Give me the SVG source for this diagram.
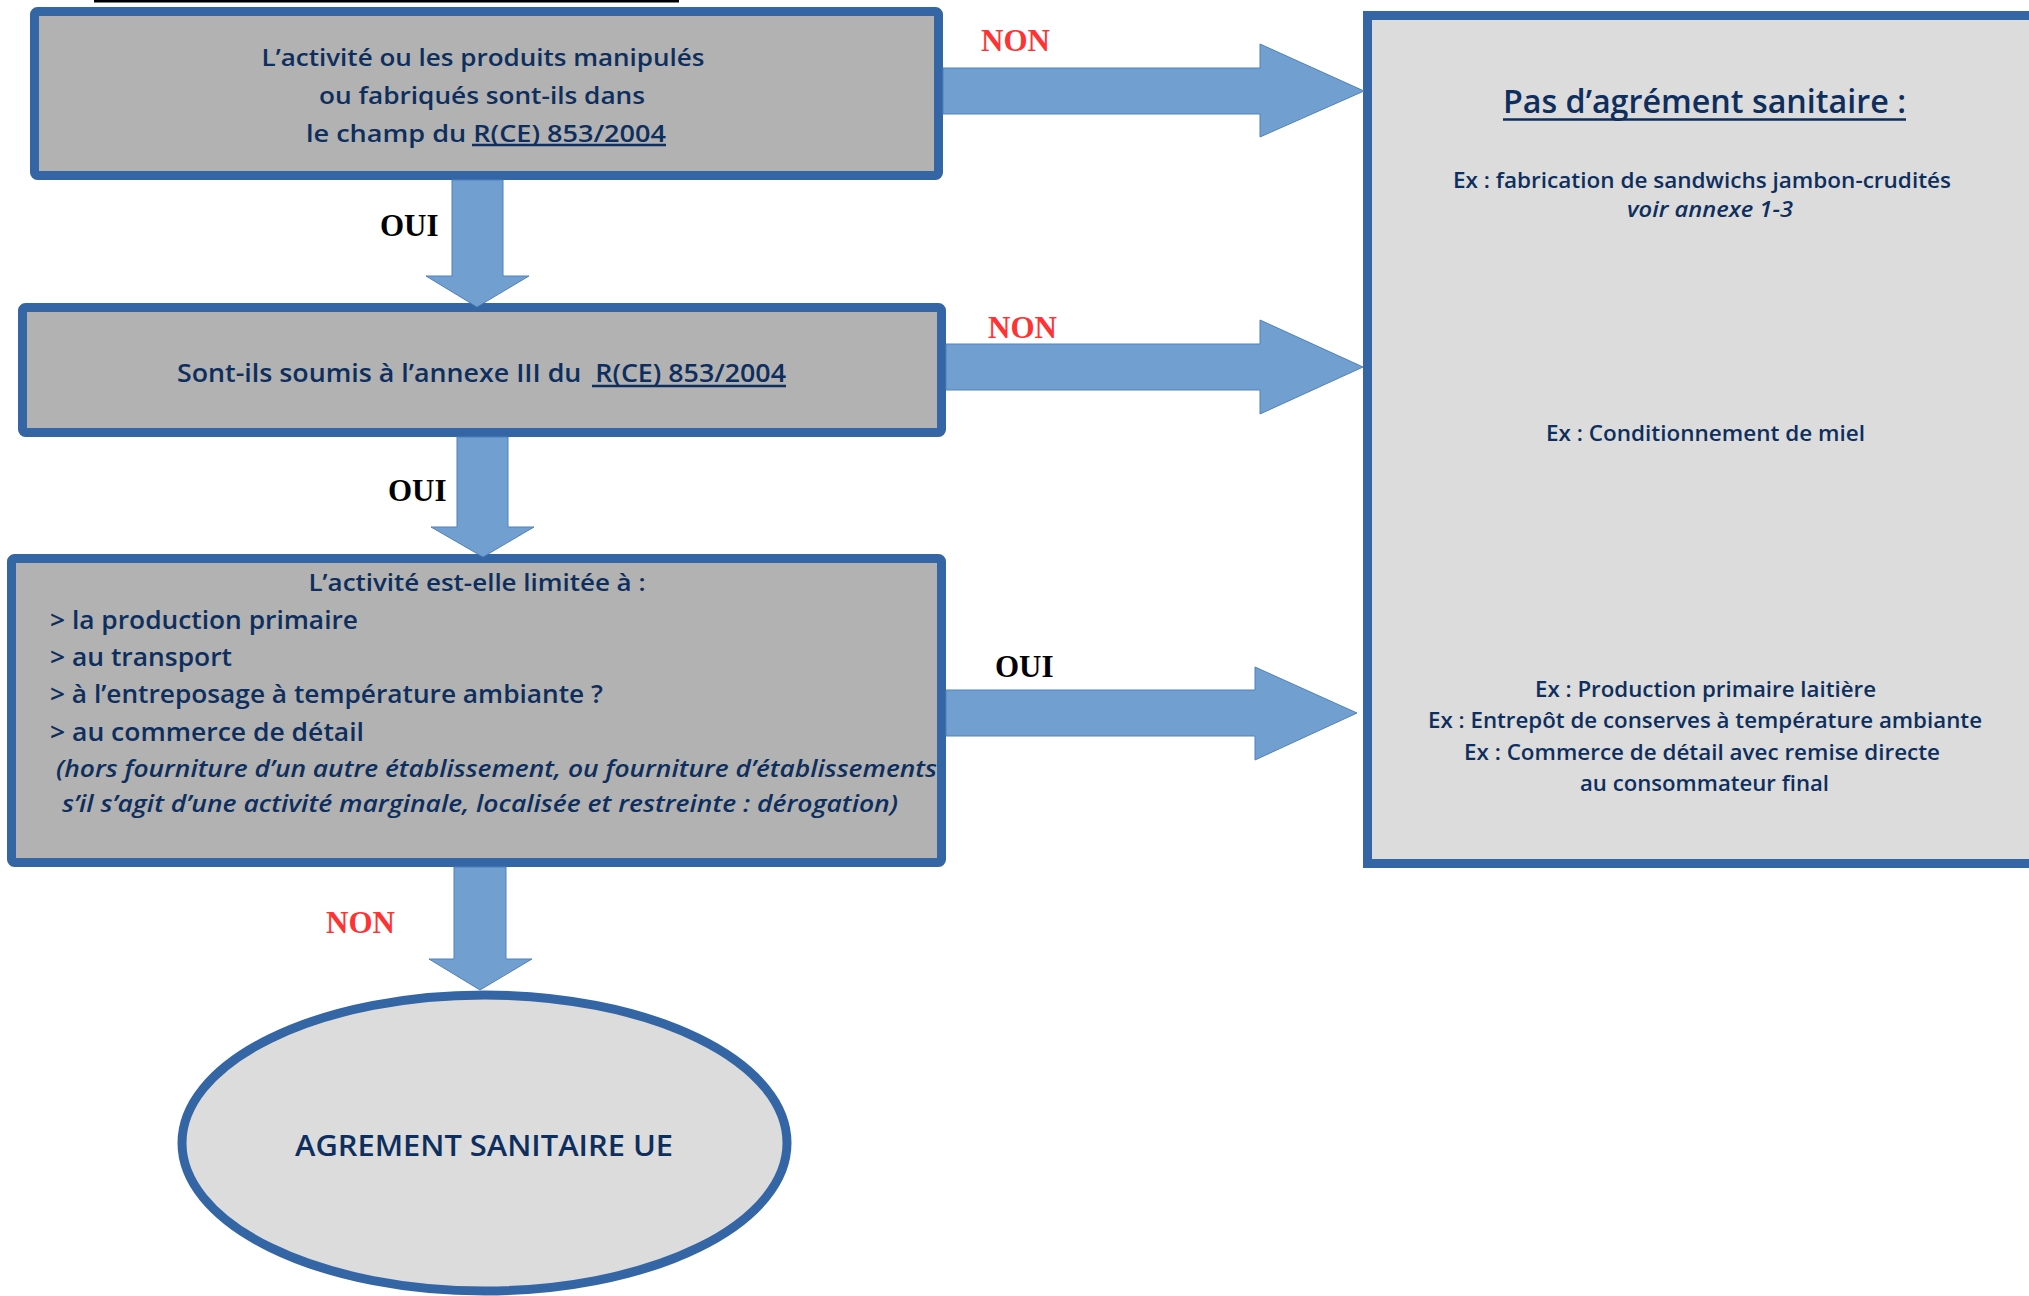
<svg xmlns="http://www.w3.org/2000/svg" width="2029" height="1296" viewBox="0 0 2029 1296">
<style>
.q{fill:#B2B2B2;stroke:#3465A4;stroke-width:9}
.r{fill:#DCDCDC;stroke:#3465A4;stroke-width:9}
.t{font-family:"Open Sans","Noto Sans","DejaVu Sans",sans-serif;fill:#0E2F5E;font-weight:600}
.i{font-style:italic}
.u{stroke:#0E2F5E;stroke-width:2.5}
.ar{fill:#719FD0;stroke:#4F81BD;stroke-width:1}
.lb{font-family:"Liberation Serif","Times New Roman",serif;font-weight:bold;font-size:31px}
.no{fill:#FF3333}
.yes{fill:#000000}
</style>
<rect x="94" y="0" width="585" height="2.5" fill="#000000"/>

<g id="q1">
<rect class="q" x="34.5" y="11.5" width="904" height="164" rx="3"/>
<text class="t" font-size="24" text-anchor="middle" x="483" y="66" textLength="443" lengthAdjust="spacingAndGlyphs">L’activité ou les produits manipulés</text>
<text class="t" font-size="24" text-anchor="middle" x="482" y="104" textLength="326" lengthAdjust="spacingAndGlyphs">ou fabriqués sont-ils dans</text>
<text class="t" font-size="24" text-anchor="middle" x="486" y="142" textLength="360" lengthAdjust="spacingAndGlyphs">le champ du R(CE) 853/2004</text>
<line class="u" x1="472" y1="145" x2="666" y2="145"/>
</g>

<g id="q2">
<rect class="q" x="22.5" y="307.5" width="919" height="125" rx="3"/>
<text class="t" font-size="25" text-anchor="middle" x="481.5" y="382" textLength="609" lengthAdjust="spacingAndGlyphs">Sont-ils soumis à l’annexe III du&#160; R(CE) 853/2004</text>
<line class="u" x1="592" y1="386" x2="786" y2="386"/>
</g>

<g id="q3">
<rect class="q" x="11.5" y="558.5" width="930" height="304" rx="3"/>
<text class="t" font-size="24" text-anchor="middle" x="477" y="591" textLength="337" lengthAdjust="spacingAndGlyphs">L’activité est-elle limitée à :</text>
<text class="t" font-size="26" x="50" y="629" textLength="308" lengthAdjust="spacingAndGlyphs">&gt; la production primaire</text>
<text class="t" font-size="26" x="50" y="666" textLength="182" lengthAdjust="spacingAndGlyphs">&gt; au transport</text>
<text class="t" font-size="26" x="50" y="703" textLength="553" lengthAdjust="spacingAndGlyphs">&gt; à l’entreposage à température ambiante ?</text>
<text class="t" font-size="26" x="50" y="741" textLength="314" lengthAdjust="spacingAndGlyphs">&gt; au commerce de détail</text>
<text class="t i" font-size="24" x="56" y="777" textLength="881" lengthAdjust="spacingAndGlyphs">(hors fourniture d’un autre établissement, ou fourniture d’établissements</text>
<text class="t i" font-size="24" x="62" y="812" textLength="836" lengthAdjust="spacingAndGlyphs">s’il s’agit d’une activité marginale, localisée et restreinte : dérogation)</text>
</g>

<g id="pas-agrement">
<rect class="r" x="1367.5" y="15.5" width="700" height="848"/>
<text class="t" font-size="32" text-anchor="middle" x="1704.5" y="113" textLength="403" lengthAdjust="spacingAndGlyphs">Pas d’agrément sanitaire :</text>
<line class="u" x1="1503" y1="119.5" x2="1906" y2="119.5"/>
<text class="t" font-size="22" text-anchor="middle" x="1702" y="188" textLength="498" lengthAdjust="spacingAndGlyphs">Ex : fabrication de sandwichs jambon-crudités</text>
<text class="t i" font-size="22" text-anchor="middle" x="1710" y="217" textLength="166" lengthAdjust="spacingAndGlyphs">voir annexe 1-3</text>
<text class="t" font-size="22" text-anchor="middle" x="1705.5" y="441" textLength="319" lengthAdjust="spacingAndGlyphs">Ex : Conditionnement de miel</text>
<text class="t" font-size="22" text-anchor="middle" x="1705.5" y="697" textLength="341" lengthAdjust="spacingAndGlyphs">Ex : Production primaire laitière</text>
<text class="t" font-size="22" text-anchor="middle" x="1705" y="728" textLength="554" lengthAdjust="spacingAndGlyphs">Ex : Entrepôt de conserves à température ambiante</text>
<text class="t" font-size="22" text-anchor="middle" x="1702" y="760" textLength="476" lengthAdjust="spacingAndGlyphs">Ex : Commerce de détail avec remise directe</text>
<text class="t" font-size="22" text-anchor="middle" x="1704.5" y="791" textLength="249" lengthAdjust="spacingAndGlyphs">au consommateur final</text>
</g>

<g id="agrement-ue">
<ellipse class="r" cx="484.5" cy="1143" rx="302.5" ry="148" stroke-width="8"/>
<text class="t" font-size="29" text-anchor="middle" x="484" y="1156" textLength="378" lengthAdjust="spacingAndGlyphs">AGREMENT SANITAIRE UE</text>
</g>

<g id="connectors">
<polygon class="ar" points="943,68 1260,68 1260,44 1364,91 1260,137 1260,114 943,114"/>
<polygon class="ar" points="946,344 1260,344 1260,320 1363,367 1260,414 1260,390 946,390"/>
<polygon class="ar" points="946,690 1255,690 1255,667 1357,713 1255,760 1255,736 946,736"/>
<polygon class="ar" points="452,180 503,180 503,276 529,276 477,307 426,276 452,276"/>
<polygon class="ar" points="457,437 508,437 508,527 534,527 483,557 431,527 457,527"/>
<polygon class="ar" points="454,867 506,867 506,959 532,959 480,990 429,959 454,959"/>
<text class="lb no" x="981" y="51">NON</text>
<text class="lb no" x="988" y="338">NON</text>
<text class="lb yes" x="995" y="677">OUI</text>
<text class="lb yes" x="380" y="236">OUI</text>
<text class="lb yes" x="388" y="501">OUI</text>
<text class="lb no" x="326" y="933">NON</text>
</g>
</svg>
